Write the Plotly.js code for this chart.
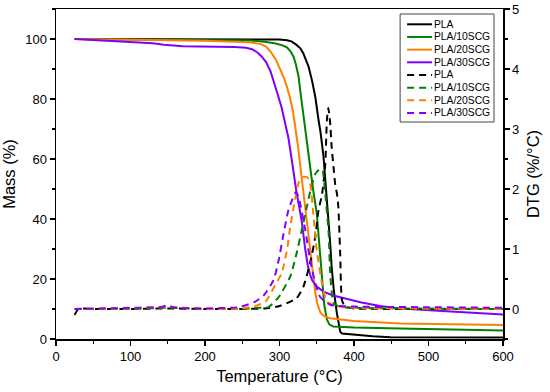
<!DOCTYPE html>
<html>
<head>
<meta charset="utf-8">
<script src="https://cdn.plot.ly/plotly-3.0.1.min.js"></script>
<style>html,body{margin:0;padding:0;background:#fff}#chart{width:550px;height:392px}</style>
</head>
<body>
<div id="chart"></div>
<script>
// ---- data ----
const seriesNames = ["PLA", "PLA/10SCG", "PLA/20SCG", "PLA/30SCG"];
const seriesColors = ["#000000", "#008000", "#ff7f00", "#7f00ff"];

// Mass (%) curves – temperature (°C) / mass pairs
const tPLA = [25, 100, 200, 280, 300, 310, 316, 322, 328, 332, 336, 339, 343.5, 348, 352.4, 355, 359, 362, 364, 366, 368, 370, 373, 377, 379.5, 381.5, 384, 400, 425, 449, 500, 600];
const mPLA = [100, 100, 100, 99.9, 99.8, 99.6, 99.2, 98.2, 96.9, 95.2, 93, 90.8, 86.3, 80.8, 73, 69, 61, 52, 46, 40, 32, 24, 16, 8.6, 4.5, 2.4, 1.8, 1.4, 0.9, 0.6, 0.5, 0.5];

const t10 = [25, 100, 200, 260, 280, 295, 305, 310, 315, 319, 322, 325.6, 328, 330, 334.5, 338, 341, 345, 350, 354, 357, 360, 363.6, 367, 372, 400, 462, 540, 600];
const m10 = [100, 99.9, 99.8, 99.5, 99.1, 98.5, 97.8, 97.2, 95.8, 94, 91.5, 87.5, 82.5, 78.6, 70, 63, 57.4, 50, 42, 30, 19, 11.5, 6.5, 4.8, 4.2, 3.8, 3.5, 3.1, 2.8];

const t20 = [25, 100, 200, 260, 275, 282, 288, 295, 301, 306, 310, 314, 318, 322, 325, 328, 331, 334.5, 337, 341, 345, 348, 351, 355, 360, 368, 400, 462, 530, 600];
const m20 = [100, 99.8, 99.4, 98.9, 98.3, 97.5, 95.8, 93.2, 90, 87, 84, 80.5, 76, 70, 64, 57.5, 51, 45, 40, 30, 21, 15.5, 11.5, 8.8, 7.6, 6.9, 6, 5.2, 4.9, 4.7];

const t30 = [25, 60, 100, 130, 145, 155, 170, 240, 255, 263, 270, 276, 282, 288, 293, 297, 303, 308, 312, 316, 320, 323, 326.5, 330, 334.5, 338, 341, 344, 350, 359, 372, 386, 410, 435, 462, 530, 600];
const m30 = [100, 99.5, 99, 98.6, 98.1, 97.8, 97.6, 97.3, 97.1, 96.6, 95.6, 94.2, 92.3, 89.2, 85.5, 82, 77, 72, 67, 60.5, 53.5, 48.6, 44, 39, 30, 24.5, 21.5, 19.5, 17.5, 15.8, 14.5, 13.6, 12.2, 11, 10.2, 9.2, 8.2];

// DTG (%/°C) curves
const tdPLA = [25, 30, 50, 100, 150, 200, 250, 280, 300, 323, 332, 341, 348, 352.4, 357, 361.4, 363.6, 365.5, 368, 370, 372.5, 375, 377, 379, 381.5, 383.8, 388, 400, 500, 600];
const dPLA  = [-0.1, 0, 0, 0, 0.01, 0, 0, 0.01, 0.05, 0.18, 0.37, 0.76, 1.2, 1.65, 1.9, 2.4, 3.15, 3.35, 3.1, 2.7, 2.37, 2.05, 1.93, 1.7, 0.9, 0.15, 0.04, 0.01, 0, 0];

const td10 = [25, 100, 150, 200, 250, 270, 285, 299, 314.4, 323, 330, 336.6, 342, 348, 355, 358, 361, 366, 368, 372.5, 380, 400, 600];
const d10  = [0, 0, 0.02, 0, 0, 0.02, 0.03, 0.2, 0.54, 0.93, 1.32, 1.7, 2.0, 2.25, 2.34, 2.3, 1.98, 1.26, 0.6, 0.1, 0.04, 0.02, 0];

const td20 = [25, 100, 150, 200, 250, 270, 281, 292, 303, 310, 314.4, 319, 325.6, 331, 337, 341, 345.7, 350, 357, 363.6, 377, 400, 600];
const d20  = [0, 0.01, 0.04, 0, 0.01, 0.06, 0.12, 0.35, 0.6, 0.98, 1.37, 1.7, 2.1, 2.2, 2.2, 2.1, 1.54, 0.98, 0.43, 0.12, 0.05, 0.02, 0];

const td30 = [25, 100, 140, 150, 160, 200, 245, 267, 279, 292, 299, 305.5, 312, 317, 322, 326, 334.5, 341, 348, 354.6, 368, 400, 500, 600];
const d30  = [0, 0.02, 0.03, 0.06, 0.02, 0.01, 0.03, 0.12, 0.23, 0.48, 0.82, 1.26, 1.65, 1.82, 1.95, 1.85, 1.32, 0.82, 0.43, 0.2, 0.07, 0.04, 0.03, 0.02];

// ---- traces ----
const massX = [tPLA, t10, t20, t30];
const massY = [mPLA, m10, m20, m30];
const dtgX  = [tdPLA, td10, td20, td30];
const dtgY  = [dPLA, d10, d20, d30];

const traces = [];
for (let i = 0; i < 4; i++) {
  traces.push({
    x: massX[i], y: massY[i], type: "scatter", mode: "lines",
    name: seriesNames[i], line: {color: seriesColors[i], width: 2},
    yaxis: "y", showlegend: false
  });
}
for (let i = 0; i < 4; i++) {
  traces.push({
    x: dtgX[i], y: dtgY[i], type: "scatter", mode: "lines",
    name: seriesNames[i], line: {color: seriesColors[i], width: 2, dash: "7px,5px", shape: "spline", smoothing: 0.5},
    yaxis: "y2", showlegend: false
  });
}

// ---- manual legend (compact, like the original) ----
const L = 55.5, R = 503, T = 9, B = 339;
const px = v => (v - L) / (R - L);
const py = v => (B - v) / (B - T);
const shapes = [{
  type: "rect", xref: "paper", yref: "paper",
  x0: px(400), x1: px(494), y0: py(122), y1: py(14),
  line: {color: "#444", width: 1}, fillcolor: "rgba(255,255,255,1)", layer: "above"
}];
const annotations = [];
for (let k = 0; k < 8; k++) {
  const i = k % 4;
  const yy = 24.3 + k * 12.67;
  shapes.push({
    type: "line", xref: "paper", yref: "paper",
    x0: px(407), x1: px(432), y0: py(yy), y1: py(yy),
    line: {color: seriesColors[i], width: 2, dash: k < 4 ? "solid" : "7px,5px"}, layer: "above"
  });
  annotations.push({
    xref: "paper", yref: "paper", x: px(432), y: py(yy),
    xanchor: "left", yanchor: "middle", showarrow: false,
    text: seriesNames[i], font: {size: 10.3, color: "#000"}
  });
}

const axisCommon = {
  showline: true, linecolor: "#000", linewidth: 1.5, showgrid: false, zeroline: false,
  ticks: "outside", ticklen: 5, tickwidth: 1.2, tickcolor: "#000",
  tickfont: {size: 13, color: "#000"}
};

const layout = {
  width: 550, height: 392,
  margin: {l: 55.5, r: 47, t: 9, b: 53},
  paper_bgcolor: "#fff", plot_bgcolor: "#fff",
  font: {family: "Liberation Sans, Arial, sans-serif", color: "#000"},
  showlegend: false,
  xaxis: Object.assign({}, axisCommon, {
    range: [0, 600], dtick: 100, tick0: 0, mirror: true,
    minor: {dtick: 50, ticks: "outside", ticklen: 3, tickcolor: "#000", tickwidth: 1.2},
    title: {text: "Temperature (°C)", font: {size: 16.5}, standoff: 7}
  }),
  yaxis: Object.assign({}, axisCommon, {
    range: [0, 110], dtick: 20, tick0: 0,
    minor: {dtick: 10, ticks: "outside", ticklen: 3, tickcolor: "#000", tickwidth: 1.2},
    title: {text: "Mass (%)", font: {size: 16.5}, standoff: 6}
  }),
  yaxis2: Object.assign({}, axisCommon, {
    range: [-0.5, 5], dtick: 1, tick0: 0, overlaying: "y", side: "right",
    minor: {dtick: 0.5, ticks: "outside", ticklen: 3, tickcolor: "#000", tickwidth: 1.2},
    title: {text: "DTG (%/°C)", font: {size: 16.5}, standoff: 9}
  }),
  shapes: shapes,
  annotations: annotations
};

Plotly.newPlot("chart", traces, layout, {displayModeBar: false, staticPlot: true});
</script>
</body>
</html>
